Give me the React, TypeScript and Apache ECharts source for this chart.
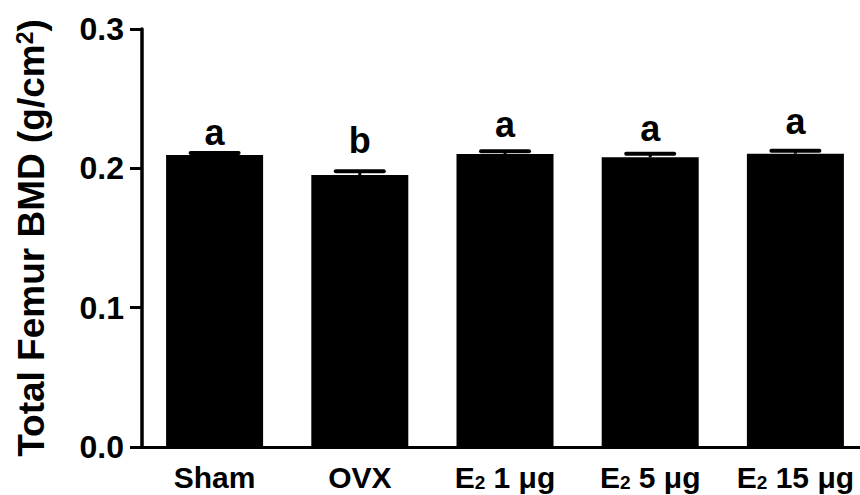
import React, { useEffect, useRef } from "react";
import * as echarts from "echarts";

const categories = ["Sham", "OVX", "E2 1 μg", "E2 5 μg", "E2 15 μg"];
const meanValues = [0.2096, 0.1952, 0.2103, 0.2079, 0.2105];
const semValues = [0.0014, 0.0027, 0.0019, 0.0026, 0.0022];
const letters = ["a", "b", "a", "a", "a"];
const letterHeights = [0.2173, 0.2115, 0.2227, 0.2198, 0.2251];
const yTicks = [0, 0.1, 0.2, 0.3];

const FONT = '"Liberation Sans", Arial, Helvetica, sans-serif';

export default function App() {
  const ref = useRef<HTMLDivElement>(null);
  useEffect(() => {
    document.body.style.margin = "0";
    if (!ref.current) return;
    const chart = echarts.init(ref.current, null, { renderer: "svg" });
    const errData = categories.map((c, i) => [i, meanValues[i], semValues[i]]);
    const letterData = categories.map((c, i) => [i, letterHeights[i], letters[i]]);
    const option: any = {
      animation: false,
      backgroundColor: "#fff",
      grid: { left: 142, top: 29, width: 726, height: 418, containLabel: false, outerBoundsMode: "none" },
      xAxis: {
        type: "category",
        data: categories,
        axisLine: { show: true, lineStyle: { color: "#000", width: 3 } },
        axisTick: { show: false },
        axisLabel: {
          margin: 15,
          color: "#000",
          interval: 0,
          formatter: (v: string) => {
            if (v.startsWith("E2")) return "{m|E}{s|2}{m|" + v.slice(2) + "}";
            return "{m|" + v + "}";
          },
          rich: {
            m: { fontSize: 30, fontWeight: "bold", fontFamily: FONT, color: "#000", verticalAlign: "bottom" },
            s: { fontSize: 19, fontWeight: "bold", fontFamily: FONT, color: "#000", verticalAlign: "bottom", lineHeight: 6 },
          },
        },
      },
      yAxis: {
        type: "value",
        min: yTicks[0],
        max: yTicks[yTicks.length - 1],
        interval: 0.1,
        name: "{t|Total Femur BMD (g/cm}{p|2}{t|)}",
        nameLocation: "middle",
        nameRotate: 90,
        nameGap: 92,
        nameTextStyle: {
          rich: {
            t: { fontSize: 37, fontWeight: "bold", fontFamily: FONT, color: "#000", verticalAlign: "top" },
            p: { fontSize: 23, fontWeight: "bold", fontFamily: FONT, color: "#000", verticalAlign: "top", lineHeight: 14 },
          },
        },
        axisLine: { show: true, lineStyle: { color: "#000", width: 3.5 } },
        axisTick: { show: true, length: 12, lineStyle: { color: "#000", width: 3 } },
        splitLine: { show: false },
        axisLabel: {
          margin: 18,
          color: "#000",
          fontSize: 32,
          fontWeight: "bold",
          fontFamily: FONT,
          formatter: (v: number) => v.toFixed(1),
        },
      },
      series: [
        {
          type: "bar",
          data: meanValues,
          barWidth: 97,
          itemStyle: { color: "#000" },
          z: 2,
        },
        {
          type: "custom",
          data: errData,
          encode: { x: 0, y: 1 },
          z: 3,
          renderItem: (params: any, api: any) => {
            const i = api.value(0);
            const v = api.value(1);
            const e = api.value(2);
            const base = api.coord([i, v]);
            const top = api.coord([i, v + e]);
            const half = 24;
            return {
              type: "group",
              children: [
                { type: "line", shape: { x1: base[0], y1: base[1], x2: top[0], y2: top[1] }, style: { stroke: "#000", lineWidth: 3 } },
                { type: "line", shape: { x1: top[0] - half, y1: top[1], x2: top[0] + half, y2: top[1] }, style: { stroke: "#000", lineWidth: 4, lineCap: "round" } },
              ],
            };
          },
        },
        {
          type: "custom",
          data: letterData,
          encode: { x: 0, y: 1 },
          z: 4,
          renderItem: (params: any, api: any) => {
            const i = api.value(0);
            const h = api.value(1);
            const p = api.coord([i, h]);
            return {
              type: "text",
              x: p[0],
              y: p[1] + 6,
              style: {
                text: letters[params.dataIndex],
                fontSize: 36,
                fontWeight: "bold",
                fontFamily: FONT,
                fill: "#000",
                align: "center",
                verticalAlign: "bottom",
              },
            };
          },
        },
      ],
    };
    chart.setOption(option);
    return () => chart.dispose();
  }, []);
  return <div ref={ref} style={{ width: 860, height: 495 }} />;
}
